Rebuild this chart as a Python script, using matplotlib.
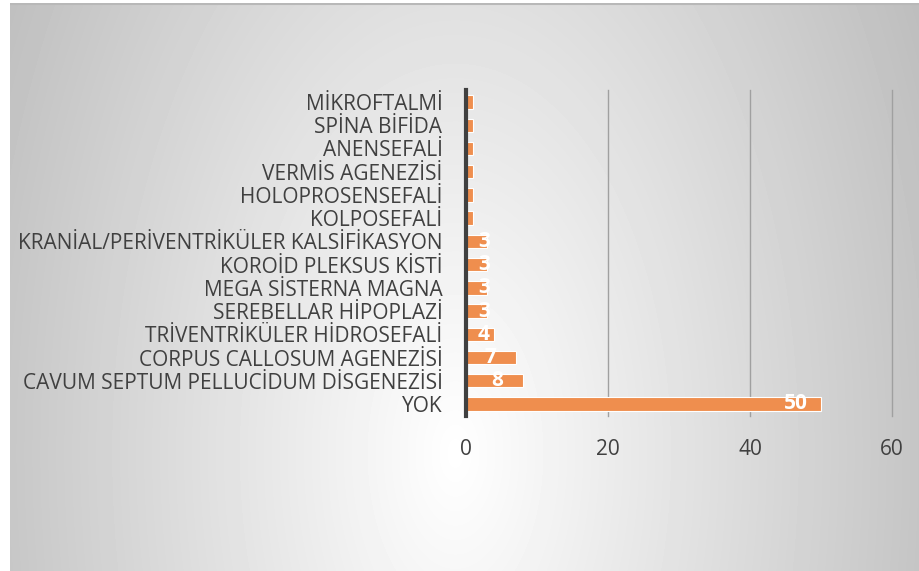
import matplotlib.pyplot as plt
import numpy as np

# findings, top to bottom as listed on the chart
categories = ['MİKROFTALMİ', 'SPİNA BİFİDA', 'ANENSEFALİ', 'VERMİS AGENEZİSİ',
              'HOLOPROSENSEFALİ', 'KOLPOSEFALİ', 'KRANİAL/PERİVENTRİKÜLER KALSİFİKASYON',
              'KOROİD PLEKSUS KİSTİ', 'MEGA SİSTERNA MAGNA', 'SEREBELLAR HİPOPLAZİ',
              'TRİVENTRİKÜLER HİDROSEFALİ', 'CORPUS CALLOSUM AGENEZİSİ',
              'CAVUM SEPTUM PELLUCİDUM DİSGENEZİSİ', 'YOK']
counts = [1, 1, 1, 1, 1, 1, 3, 3, 3, 3, 4, 7, 8, 50]
xticks = [0, 20, 40, 60]

plt.rcParams['font.family'] = ['Open Sans', 'DejaVu Sans']
W, H = 919, 571
fig = plt.figure(figsize=(W / 100, H / 100), dpi=100)
fig.patch.set_facecolor('white')

# radial grey background of the chart area
bg = fig.add_axes([10 / W, 0, 909 / W, 568 / H])
yy, xx = np.mgrid[0:568, 0:909]
r = np.sqrt(((xx - 445) / 470.0) ** 2 + ((yy - 450) / 850.0) ** 2)
shade = np.clip(1 - 0.23 * r, 0, 1)
bg.imshow(shade, cmap='gray', vmin=0, vmax=1, aspect='auto',
          extent=[0, 909, 568, 0], interpolation='bilinear')
bg.set_xlim(0, 909)
bg.set_ylim(568, 0)
bg.axis('off')
bg.axhline(1, color='#b8b8b8', lw=1.5)

ax = fig.add_axes([466 / W, 155.4 / H, 426 / W, 325.2 / H])
ax.patch.set_alpha(0)
y = np.arange(len(categories))[::-1]
bars = ax.barh(y, counts, height=0.58, color='#EF8E4E', edgecolor='white', linewidth=0.8, zorder=3)

for yi, v in zip(y, counts):
    if v < 3:
        continue
    off = 3.6 if v >= 7 else v - 2.5
    ax.text(v - off, yi, str(v), ha='center', va='center', color='white',
            fontsize=15, fontweight='bold', zorder=4)

ax.set_xlim(0, 60)
ax.set_ylim(-0.5, len(categories) - 0.5)
ax.set_xticks(xticks)
ax.set_yticks(y)
ax.set_yticklabels(categories)
ax.tick_params(axis='both', length=0, labelsize=15, colors='#404040')
ax.tick_params(axis='y', pad=17)
ax.tick_params(axis='x', pad=17)
ax.xaxis.grid(True, color='#a0a0a0', lw=1, zorder=0)
for line in ax.get_xgridlines():
    line.set_clip_on(False)
for s in ['top', 'right', 'bottom']:
    ax.spines[s].set_visible(False)
ax.spines['left'].set_color('#404040')
ax.spines['left'].set_linewidth(3)
ax.spines['left'].set_zorder(5)

fig.savefig('out.png', dpi=100)
